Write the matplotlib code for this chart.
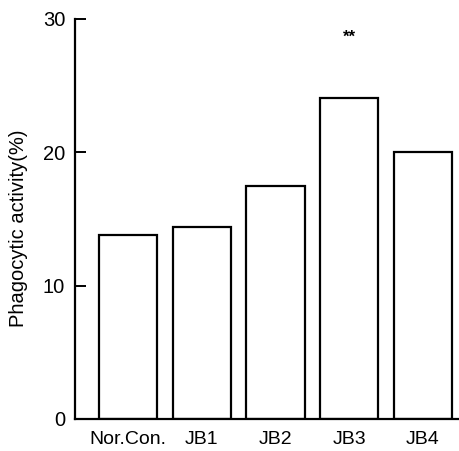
import numpy as np
import matplotlib.pyplot as plt

plt.rcParams['font.family'] = ['Liberation Sans', 'DejaVu Sans']

groups = ["Nor.Con.", "JB1", "JB2", "JB3", "JB4"]
activity = [13.8, 14.4, 17.5, 24.1, 20.0]
marks = ["", "", "", "**", ""]
yticks = [0, 10, 20, 30]

fig = plt.figure(figsize=(4.59, 4.51), dpi=100)
ax = fig.add_axes([0.163, 0.071, 0.837, 0.887])

x = np.arange(len(groups))
ax.bar(x, activity, width=0.79, color="white", edgecolor="black", linewidth=1.6)

# significance marks above the bars
for xi, m in zip(x, marks):
    if m:
        ax.text(xi, 28.6, m, ha="center", va="center", fontsize=12, fontweight="bold")

ax.set_xlim(-0.72, 4.49)
ax.set_ylim(0, 30)
ax.set_yticks(yticks)
ax.tick_params(axis="y", direction="in", length=8, width=1.4, labelsize=14.5, pad=7)
ax.set_xticks(x)
ax.set_xticklabels(groups)
ax.tick_params(axis="x", length=0, labelsize=14, pad=9)
ax.set_ylabel("Phagocytic activity(%)", fontsize=14.5)
ax.yaxis.set_label_coords(-0.122, 0.478)

ax.spines["top"].set_visible(False)
ax.spines["right"].set_visible(False)
ax.spines["left"].set_linewidth(1.6)
ax.spines["bottom"].set_linewidth(1.6)

fig.savefig("out.png", dpi=100)
